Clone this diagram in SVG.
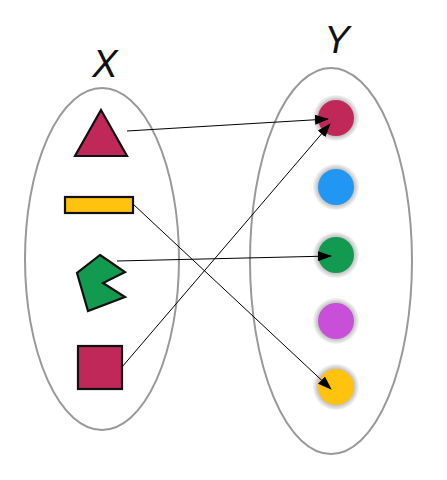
<svg xmlns="http://www.w3.org/2000/svg" width="447" height="480" viewBox="0 0 447 480">
<defs>
<marker id="ah" viewBox="0 0 14 10" refX="13" refY="5" markerWidth="14" markerHeight="10" markerUnits="userSpaceOnUse" orient="auto">
<path d="M0,0 L14,5 L0,10 z" fill="#000"/>
</marker>
<radialGradient id="glow">
<stop offset="0.72" stop-color="#b8b8b8"/>
<stop offset="0.85" stop-color="#d0d0d0"/>
<stop offset="1" stop-color="#e8e8e8" stop-opacity="0.5"/>
</radialGradient>
</defs>
<style>
.set{fill:none;stroke:#999;stroke-width:2}
.lbl{font-family:"Liberation Sans",Arial,sans-serif;font-style:italic;font-size:38px;fill:#111;text-anchor:middle}
.shape{stroke:#111;stroke-width:2.2;stroke-linejoin:miter}
.conn{stroke:#000;stroke-width:1;fill:none;marker-end:url(#ah)}
.halo{fill:url(#glow)}
</style>
<g id="setX">
<ellipse class="set" cx="102" cy="259" rx="77" ry="171"/>
<text class="lbl" x="105" y="77">X</text>
</g>
<g id="setY">
<ellipse class="set" cx="331" cy="261" rx="81" ry="193"/>
<text class="lbl" x="337" y="53">Y</text>
</g>
<g id="triangle"><polygon class="shape" fill="#C1285A" points="101,110 127,156 75,156"/></g>
<g id="rect"><rect class="shape" fill="#FFC20E" x="65" y="197" width="68" height="16"/></g>
<g id="pentagon"><polygon class="shape" fill="#129A50" points="100,255 125,272 103,283 125,297 88,311 77,273"/></g>
<g id="square"><rect class="shape" fill="#C1285A" x="78" y="346" width="44" height="43"/></g>
<g id="c1"><circle class="halo" cx="336" cy="118" r="23"/><circle fill="#C1285A" cx="336" cy="118" r="18"/></g>
<g id="c2"><circle class="halo" cx="336" cy="187" r="23"/><circle fill="#2196F3" cx="336" cy="187" r="18"/></g>
<g id="c3"><circle class="halo" cx="336" cy="255" r="23"/><circle fill="#129A50" cx="336" cy="255" r="18"/></g>
<g id="c4"><circle class="halo" cx="336" cy="321" r="23"/><circle fill="#C84FD8" cx="336" cy="321" r="18"/></g>
<g id="c5"><circle class="halo" cx="336" cy="387" r="23"/><circle fill="#FFC20E" cx="336" cy="387" r="18"/></g>
<g id="connectors">
<line class="conn" x1="127" y1="131" x2="328" y2="119"/>
<line class="conn" x1="122" y1="367" x2="330" y2="124"/>
<line class="conn" x1="133" y1="204" x2="331" y2="389"/>
<line class="conn" x1="117" y1="261" x2="331" y2="256"/>
</g>
</svg>
